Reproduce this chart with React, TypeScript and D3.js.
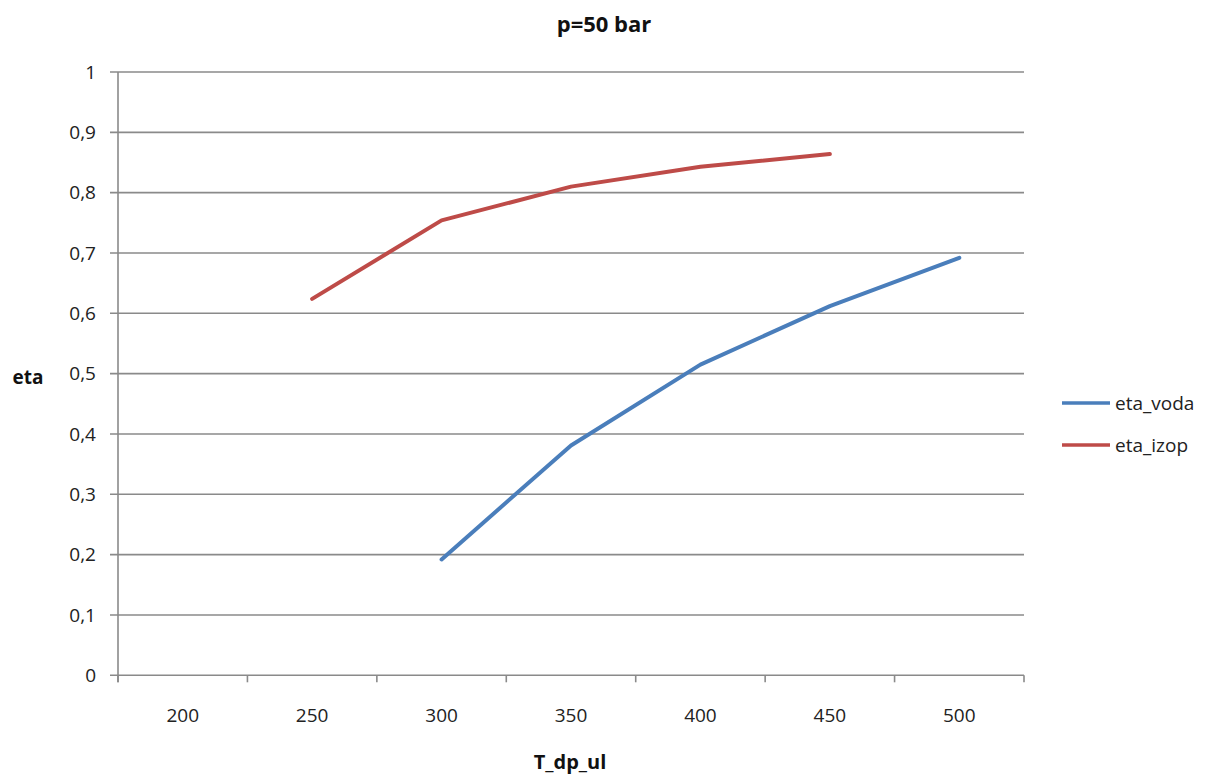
import React from "react";
import * as d3 from "d3";

const categories: string[] = ["200", "250", "300", "350", "400", "450", "500"];
const etaVoda: (number | null)[] = [null, null, 0.192, 0.381, 0.515, 0.612, 0.692];
const etaIzop: (number | null)[] = [null, 0.624, 0.754, 0.81, 0.843, 0.864, null];
const yTicks: number[] = [0, 0.1, 0.2, 0.3, 0.4, 0.5, 0.6, 0.7, 0.8, 0.9, 1];
const seriesNames: string[] = ["eta_voda", "eta_izop"];
const seriesColors: string[] = ["#4A7EBB", "#BE4B48"];

const W = 1219;
const H = 778;
const FONT = "'Open Sans', 'DejaVu Sans', sans-serif";

export default function App() {
  const x = d3.scaleBand<string>().domain(categories).range([118, 1024]).padding(0);
  const y = d3.scaleLinear().domain([0, 1]).range([675.3, 72]);
  const line = d3
    .line<number | null>()
    .defined((d) => d !== null)
    .x((_, i) => (x(categories[i]) as number) + x.bandwidth() / 2)
    .y((d) => y(d as number));

  const series = [etaVoda, etaIzop];
  const boundaries = d3.range(categories.length + 1).map((i) => 118 + i * x.bandwidth());
  const fmt = (v: number) => (v === 0 || v === 1 ? String(v) : d3.format(".1f")(v).replace(".", ","));

  return (
    <svg
      width={W}
      height={H}
      style={{ position: "absolute", left: 0, top: 0, background: "#fff" }}
      fontFamily={FONT}
    >
      <rect x={0} y={0} width={W} height={H} fill="#fff" />
      {/* gridlines */}
      {yTicks.map((t) => (
        <line key={"g" + t} x1={110} x2={1024} y1={y(t)} y2={y(t)} stroke="#8a8a8a" strokeWidth={1.6} />
      ))}
      {/* y axis */}
      <line x1={118} x2={118} y1={y(1)} y2={y(0) + 7} stroke="#8a8a8a" strokeWidth={1.6} />
      {/* x axis ticks */}
      {boundaries.map((b, i) => (
        <line key={"t" + i} x1={b} x2={b} y1={y(0)} y2={y(0) + 7} stroke="#8a8a8a" strokeWidth={1.6} />
      ))}
      {/* y tick labels */}
      {yTicks.map((t) => (
        <text key={"yl" + t} x={96} y={y(t)} dy="0.35em" textAnchor="end" fontSize={19} fill="#222">
          {fmt(t)}
        </text>
      ))}
      {/* x tick labels */}
      {categories.map((c) => (
        <text
          key={"xl" + c}
          x={(x(c) as number) + x.bandwidth() / 2}
          y={715}
          dy="0.35em"
          textAnchor="middle"
          fontSize={19}
          fill="#222"
        >
          {c}
        </text>
      ))}
      {/* series */}
      {series.map((s, i) => (
        <path
          key={"s" + i}
          d={line(s) || ""}
          fill="none"
          stroke={seriesColors[i]}
          strokeWidth={4}
          strokeLinejoin="round"
          strokeLinecap="round"
        />
      ))}
      {/* title */}
      <text x={604} y={32} textAnchor="middle" fontSize={22} fontWeight="bold" fill="#111">
        p=50 bar
      </text>
      {/* axis titles */}
      <text x={28} y={377} dy="0.35em" textAnchor="middle" fontSize={19} fontWeight="bold" fill="#111">
        eta
      </text>
      <text x={570} y={769} textAnchor="middle" fontSize={20} fontWeight="bold" fill="#111">
        T_dp_ul
      </text>
      {/* legend */}
      {seriesNames.map((n, i) => (
        <g key={"lg" + n} transform={`translate(0, ${403 + i * 42})`}>
          <line x1={1062} x2={1110} y1={0} y2={0} stroke={seriesColors[i]} strokeWidth={3.5} />
          <text x={1115} y={0} dy="0.35em" fontSize={19} fill="#222">
            {n}
          </text>
        </g>
      ))}
    </svg>
  );
}
